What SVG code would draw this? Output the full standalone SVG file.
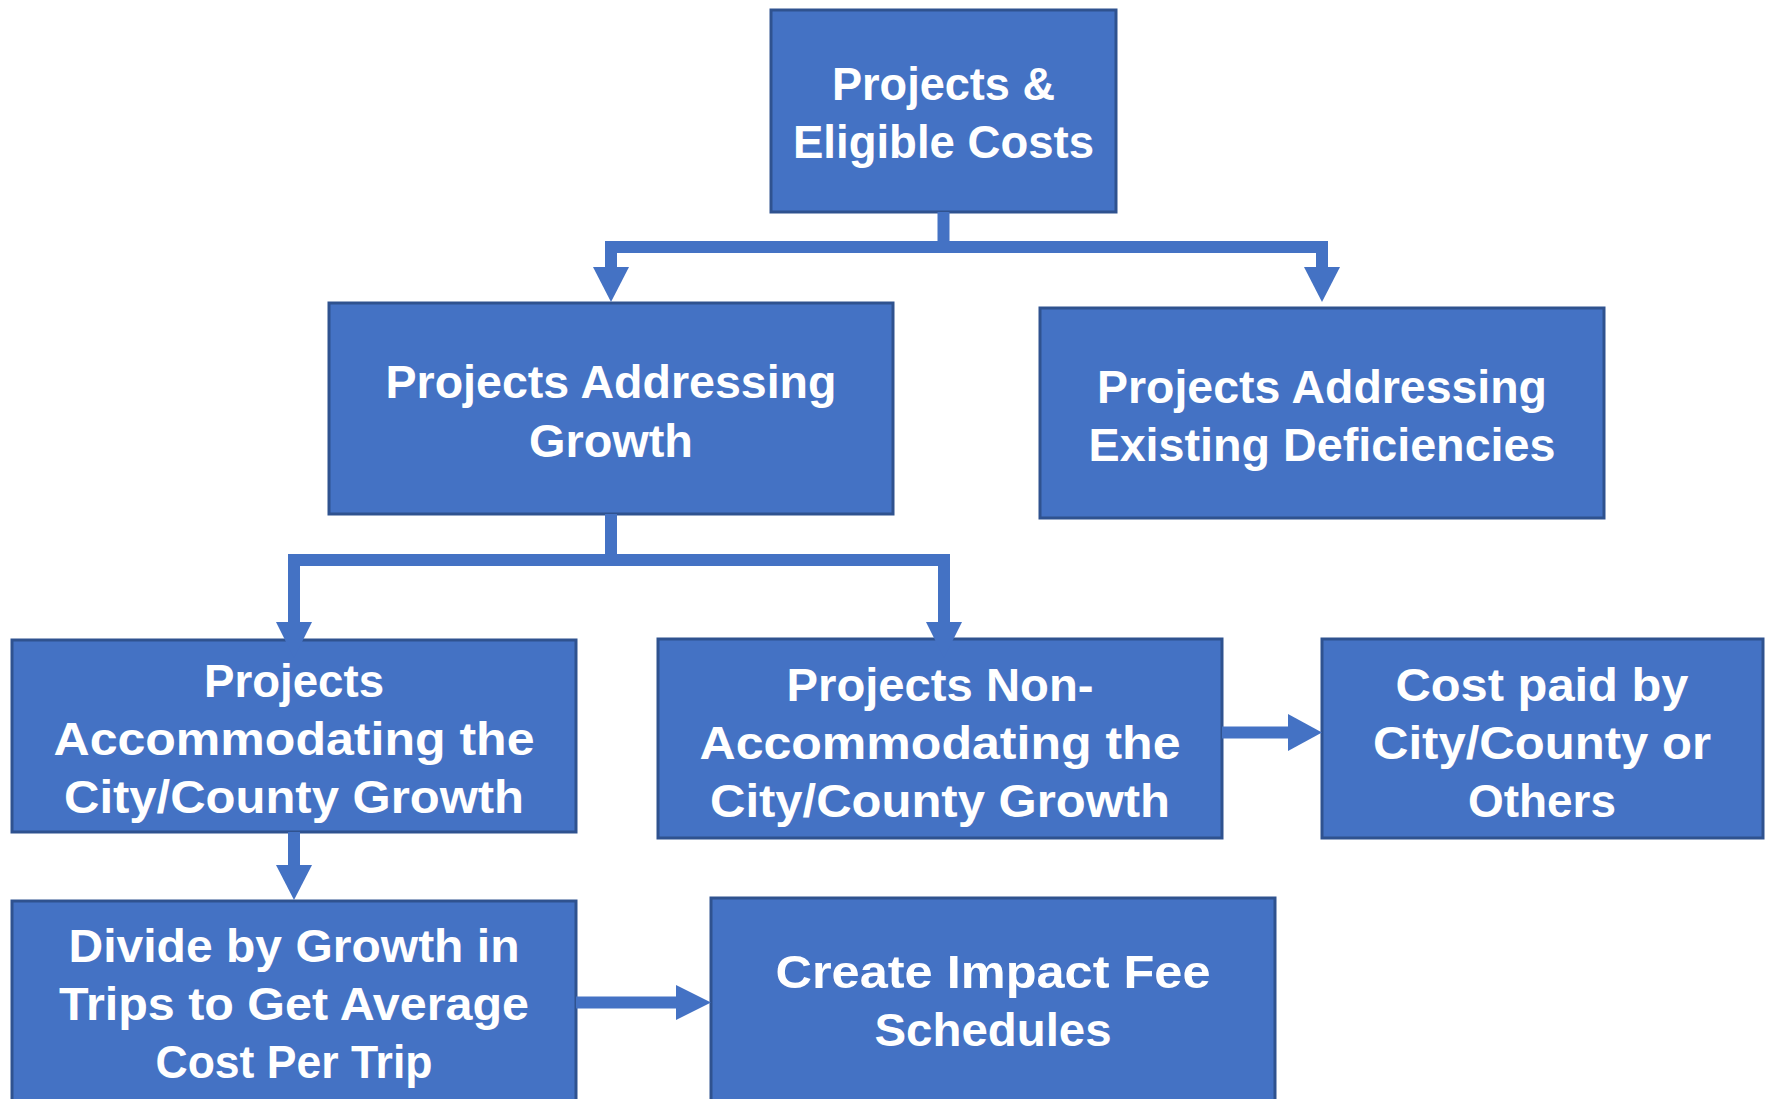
<svg xmlns="http://www.w3.org/2000/svg" width="1767" height="1099" viewBox="0 0 1767 1099">
  <style>
    .box { fill: #4472C4; stroke: #2F528F; stroke-width: 3; }
    .lbl { fill: #FFFFFF; font-family: "Century Gothic", "Liberation Sans", Arial, sans-serif; font-weight: bold; font-size: 46px; text-anchor: middle; }
    .wire { fill: none; stroke: #4472C4; stroke-width: 12; stroke-linejoin: miter; }
    .head { fill: #4472C4; }
  </style>
  <rect width="1767" height="1099" fill="#FFFFFF"/>

  <g id="node-eligible-costs">
    <rect class="box" x="771" y="10" width="345" height="202"/>
    <text class="lbl" x="943.5" y="100" textLength="223" lengthAdjust="spacingAndGlyphs">Projects &amp;</text>
    <text class="lbl" x="943.5" y="158" textLength="301" lengthAdjust="spacingAndGlyphs">Eligible Costs</text>
  </g>

  <g id="node-addressing-growth">
    <rect class="box" x="329" y="303" width="564" height="211"/>
    <text class="lbl" x="611" y="398" textLength="451" lengthAdjust="spacingAndGlyphs">Projects Addressing</text>
    <text class="lbl" x="611" y="457" textLength="164" lengthAdjust="spacingAndGlyphs">Growth</text>
  </g>

  <g id="node-existing-deficiencies">
    <rect class="box" x="1040" y="308" width="564" height="210"/>
    <text class="lbl" x="1322" y="403" textLength="450" lengthAdjust="spacingAndGlyphs">Projects Addressing</text>
    <text class="lbl" x="1322" y="461" textLength="467" lengthAdjust="spacingAndGlyphs">Existing Deficiencies</text>
  </g>

  <g id="node-accommodating">
    <rect class="box" x="12" y="640" width="564" height="192"/>
    <text class="lbl" x="294" y="697" textLength="180" lengthAdjust="spacingAndGlyphs">Projects</text>
    <text class="lbl" x="294" y="755" textLength="481" lengthAdjust="spacingAndGlyphs">Accommodating the</text>
    <text class="lbl" x="294" y="813" textLength="460" lengthAdjust="spacingAndGlyphs">City/County Growth</text>
  </g>

  <g id="node-non-accommodating">
    <rect class="box" x="658" y="639" width="564" height="199"/>
    <text class="lbl" x="940" y="701" textLength="307" lengthAdjust="spacingAndGlyphs">Projects Non-</text>
    <text class="lbl" x="940" y="759" textLength="481" lengthAdjust="spacingAndGlyphs">Accommodating the</text>
    <text class="lbl" x="940" y="817" textLength="460" lengthAdjust="spacingAndGlyphs">City/County Growth</text>
  </g>

  <g id="node-cost-paid">
    <rect class="box" x="1322" y="639" width="441" height="199"/>
    <text class="lbl" x="1542" y="701" textLength="293" lengthAdjust="spacingAndGlyphs">Cost paid by</text>
    <text class="lbl" x="1542" y="759" textLength="338" lengthAdjust="spacingAndGlyphs">City/County or</text>
    <text class="lbl" x="1542" y="817" textLength="148" lengthAdjust="spacingAndGlyphs">Others</text>
  </g>

  <g id="node-divide">
    <rect class="box" x="12" y="901" width="564" height="210"/>
    <text class="lbl" x="294" y="962" textLength="451" lengthAdjust="spacingAndGlyphs">Divide by Growth in</text>
    <text class="lbl" x="294" y="1020" textLength="470" lengthAdjust="spacingAndGlyphs">Trips to Get Average</text>
    <text class="lbl" x="294" y="1078" textLength="277" lengthAdjust="spacingAndGlyphs">Cost Per Trip</text>
  </g>

  <g id="node-impact-fee">
    <rect class="box" x="711" y="898" width="564" height="213"/>
    <text class="lbl" x="993" y="988" textLength="435" lengthAdjust="spacingAndGlyphs">Create Impact Fee</text>
    <text class="lbl" x="993" y="1046" textLength="237" lengthAdjust="spacingAndGlyphs">Schedules</text>
  </g>

  <g id="connectors">
    <!-- top split -->
    <path class="wire" d="M943.5 212 V247 H611 V268"/>
    <path class="wire" d="M943.5 247 H1322 V268"/>
    <polygon class="head" points="593,267 629,267 611,302"/>
    <polygon class="head" points="1304,267 1340,267 1322,302"/>
    <!-- growth split -->
    <path class="wire" d="M611 514 V560 H294 V623"/>
    <path class="wire" d="M611 560 H944 V623"/>
    <polygon class="head" points="276,622 312,622 294,658"/>
    <polygon class="head" points="926,622 962,622 944,658"/>
    <!-- accommodating to divide -->
    <path class="wire" d="M294 832 V866"/>
    <polygon class="head" points="276,865 312,865 294,900"/>
    <!-- non-accommodating to cost paid -->
    <path class="wire" d="M1222 732.5 H1289"/>
    <polygon class="head" points="1288,714 1288,751 1322,732.5"/>
    <!-- divide to impact fee -->
    <path class="wire" d="M576 1002.5 H677"/>
    <polygon class="head" points="676,985 676,1020 711,1002.5"/>
  </g>
</svg>
